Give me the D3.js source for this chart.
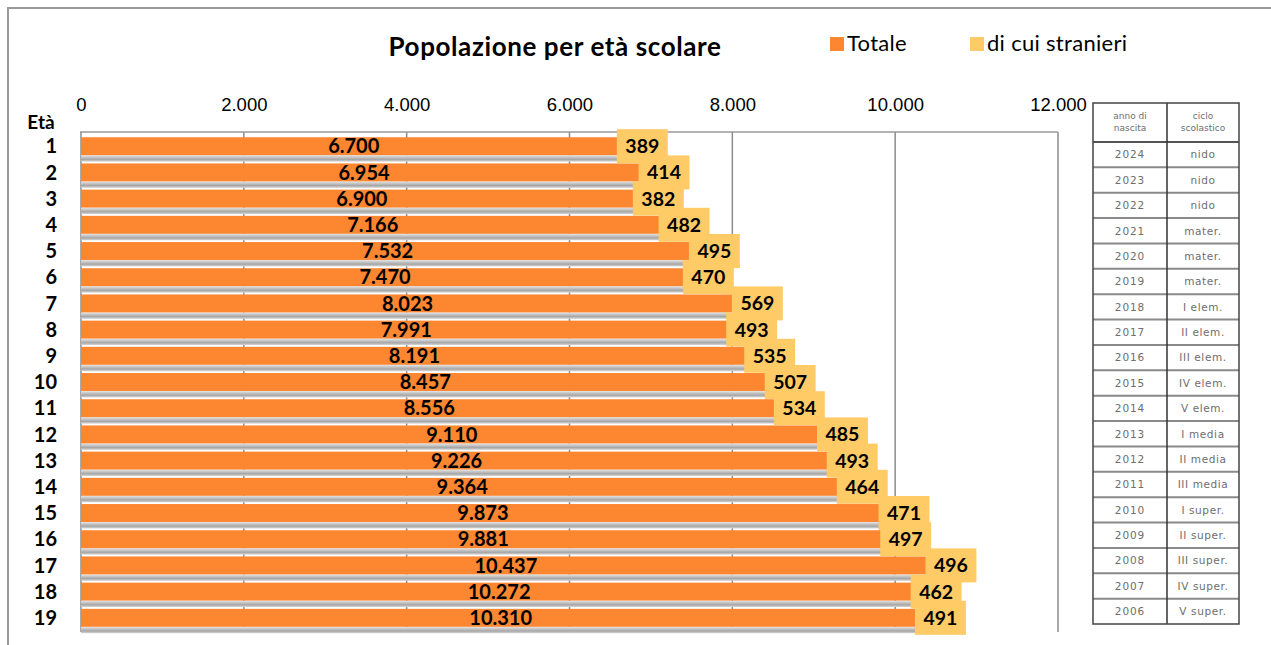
<!DOCTYPE html>
<html>
<head>
<meta charset="utf-8">
<script src="https://cdn.jsdelivr.net/npm/d3@7"></script>
<style>
  body { margin: 0; background: #fff; }
  svg { display: block; font-family: Lato, "Noto Sans", sans-serif; }
  .tick text { font-size: 18.5px; fill: #000; }
  .row text { font-weight: bold; }
</style>
</head>
<body>
<svg id="chart" width="1271" height="645"></svg>
<script>
var eta = [1, 2, 3, 4, 5, 6, 7, 8, 9, 10, 11, 12, 13, 14, 15, 16, 17, 18, 19];
var totale = [6700, 6954, 6900, 7166, 7532, 7470, 8023, 7991, 8191, 8457, 8556, 9110, 9226, 9364, 9873, 9881, 10437, 10272, 10310];
var stranieri = [389, 414, 382, 482, 495, 470, 569, 493, 535, 507, 534, 485, 493, 464, 471, 497, 496, 462, 491];
var annoNascita = [2024, 2023, 2022, 2021, 2020, 2019, 2018, 2017, 2016, 2015, 2014, 2013, 2012, 2011, 2010, 2009, 2008, 2007, 2006];
var ciclo = ["nido", "nido", "nido", "mater.", "mater.", "mater.", "I elem.", "II elem.", "III elem.", "IV elem.", "V elem.",
  "I media", "II media", "III media", "I super.", "II super.", "III super.", "IV super.", "V super."];
var xTicks = [0, 2000, 4000, 6000, 8000, 10000, 12000];

var data = eta.map(function(e, i) {
  return {eta: e, tot: totale[i], str: stranieri[i], anno: annoNascita[i], ciclo: ciclo[i]};
});

var svg = d3.select("#chart"),
    plot = {left: 80, right: 1058, top: 132, bottom: 632};

var fmt = d3.formatLocale({decimal: ",", thousands: ".", grouping: [3]}).format(",");

var x = d3.scaleLinear().domain([0, 12000]).range([plot.left + 1, plot.right]);
var y = d3.scaleBand().domain(eta).range([plot.top, plot.bottom])
    .paddingInner(0.316).paddingOuter(0.2);

var colTot = "#fd8631", colStr = "#ffcb66";

// shadow gradient under bars
var defs = svg.append("defs");
var grad = defs.append("linearGradient").attr("id", "shade").attr("x1", 0).attr("y1", 0).attr("x2", 0).attr("y2", 1);
grad.append("stop").attr("offset", "0%").attr("stop-color", "#e6e6e6");
grad.append("stop").attr("offset", "65%").attr("stop-color", "#a6a6a6");
grad.append("stop").attr("offset", "100%").attr("stop-color", "#d8d8d8");

// outer frame
svg.append("path")
    .attr("d", "M8,645 V8 H1271")
    .attr("fill", "none").attr("stroke", "#9a9a9a").attr("stroke-width", 2);

// title
svg.append("text")
    .attr("x", 555).attr("y", 56)
    .attr("text-anchor", "middle")
    .style("font-size", "26px").style("font-weight", "bold").style("letter-spacing", "0.6px")
    .text("Popolazione per età scolare");

// legend
var legend = [{label: "Totale", color: colTot, x: 830}, {label: "di cui stranieri", color: colStr, x: 970}];
var lg = svg.selectAll(".legend").data(legend).enter().append("g")
    .attr("class", "legend")
    .attr("transform", function(d) { return "translate(" + d.x + ",37)"; });
lg.append("rect").attr("width", 14).attr("height", 14).attr("fill", function(d) { return d.color; });
lg.append("text").attr("x", 17).attr("y", 14).style("font-size", "22px").style("letter-spacing", "0.3px")
    .text(function(d) { return d.label; });

// gridlines + plot borders
svg.append("g")
    .selectAll("line").data(xTicks).enter().append("line")
    .attr("x1", function(d) { return x(d); }).attr("x2", function(d) { return x(d); })
    .attr("y1", plot.top).attr("y2", plot.bottom)
    .attr("stroke", "#8c8c8c").attr("stroke-width", 1.5);
svg.append("line")
    .attr("x1", plot.left).attr("x2", plot.right).attr("y1", plot.top).attr("y2", plot.top)
    .attr("stroke", "#9a9a9a").attr("stroke-width", 1.5);

// x axis on top
var xAxis = svg.append("g")
    .attr("transform", "translate(0," + 111 + ")")
    .call(d3.axisTop(x).tickValues(xTicks).tickSize(0).tickPadding(0).tickFormat(fmt));
xAxis.select(".domain").remove();

// "Età" label
svg.append("text")
    .attr("x", 41).attr("y", 129).attr("text-anchor", "middle")
    .style("font-size", "19px").style("font-weight", "bold")
    .text("Età");

// row labels
svg.append("g").selectAll("text").data(data).enter().append("text")
    .attr("x", 57).attr("y", function(d) { return y(d.eta) + y.bandwidth() / 2; })
    .attr("dy", "0.36em").attr("text-anchor", "end")
    .style("font-size", "20px").style("font-weight", "bold")
    .text(function(d) { return d.eta; });

// bars
var rows = svg.append("g").selectAll(".row").data(data).enter().append("g").attr("class", "row");

rows.append("rect")
    .attr("x", x(0)).attr("y", function(d) { return y(d.eta) + y.bandwidth(); })
    .attr("width", function(d) { return x(d.tot) - x(0); })
    .attr("height", 6.5)
    .attr("fill", "url(#shade)");

rows.append("rect")
    .attr("x", x(0)).attr("y", function(d) { return y(d.eta); })
    .attr("width", function(d) { return x(d.tot) - x(0); })
    .attr("height", y.bandwidth())
    .attr("fill", colTot);

rows.append("text")
    .attr("x", function(d) { return (x(0) + x(d.tot)) / 2; })
    .attr("y", function(d) { return y(d.eta) + y.bandwidth() / 2; })
    .attr("dy", "0.36em").attr("text-anchor", "middle")
    .style("font-size", "20px")
    .text(function(d) { return fmt(d.tot); });

// stranieri labels (boxes centred on the stacked segment)
var lab = svg.append("g").selectAll(".lab").data(data).enter().append("g")
    .attr("class", "row")
    .attr("transform", function(d) {
      return "translate(" + (x(d.tot) + x(d.tot + d.str)) / 2 + "," + (y(d.eta) + y.bandwidth() / 2) + ")";
    });
lab.append("rect").attr("fill", colStr);
lab.append("text")
    .attr("dy", "0.36em").attr("text-anchor", "middle")
    .style("font-size", "19.5px")
    .text(function(d) { return d.str; });
lab.each(function() {
  var g = d3.select(this), w = g.select("text").node().getComputedTextLength() + 17;
  g.select("rect").attr("x", -w / 2).attr("y", -17).attr("width", w).attr("height", 34);
});

// table on the right
var tab = {left: 1093, mid: 1167, right: 1239, top: 103, head: 142, bottom: 624};
var rowH = (tab.bottom - tab.head) / data.length;
var t = svg.append("g").style("font-family", "'DejaVu Sans', sans-serif").style("fill", "#6e6e6e");

t.selectAll(".hline").data(d3.range(1, data.length)).enter().append("line")
    .attr("x1", tab.left).attr("x2", tab.right)
    .attr("y1", function(i) { return tab.head + i * rowH; })
    .attr("y2", function(i) { return tab.head + i * rowH; })
    .attr("stroke", "#8a8a8a").attr("stroke-width", 2);
t.append("line").attr("x1", tab.left).attr("x2", tab.right).attr("y1", tab.head).attr("y2", tab.head)
    .attr("stroke", "#555").attr("stroke-width", 2);
t.append("line").attr("x1", tab.mid).attr("x2", tab.mid).attr("y1", tab.top).attr("y2", tab.bottom)
    .attr("stroke", "#333").attr("stroke-width", 1.5);
t.append("rect").attr("x", tab.left).attr("y", tab.top)
    .attr("width", tab.right - tab.left).attr("height", tab.bottom - tab.top)
    .attr("fill", "none").attr("stroke", "#444").attr("stroke-width", 1.5);

var head = [["anno di", "nascita"], ["ciclo", "scolastico"]];
head.forEach(function(h, j) {
  var cx = j === 0 ? (tab.left + tab.mid) / 2 : (tab.mid + tab.right) / 2;
  t.append("text").attr("x", cx).attr("y", 119).attr("text-anchor", "middle").style("font-size", "9px").text(h[0]);
  t.append("text").attr("x", cx).attr("y", 131).attr("text-anchor", "middle").style("font-size", "9px").text(h[1]);
});

t.selectAll(".anno").data(data).enter().append("text")
    .attr("x", (tab.left + tab.mid) / 2)
    .attr("y", function(d, i) { return tab.head + i * rowH + rowH / 2; })
    .attr("dy", "0.36em").attr("text-anchor", "middle")
    .style("font-size", "10.5px").style("letter-spacing", "0.9px")
    .text(function(d) { return d.anno; });
t.selectAll(".ciclo").data(data).enter().append("text")
    .attr("x", (tab.mid + tab.right) / 2)
    .attr("y", function(d, i) { return tab.head + i * rowH + rowH / 2; })
    .attr("dy", "0.36em").attr("text-anchor", "middle")
    .style("font-size", "10.5px").style("letter-spacing", "0.6px")
    .text(function(d) { return d.ciclo; });
</script>
</body>
</html>
